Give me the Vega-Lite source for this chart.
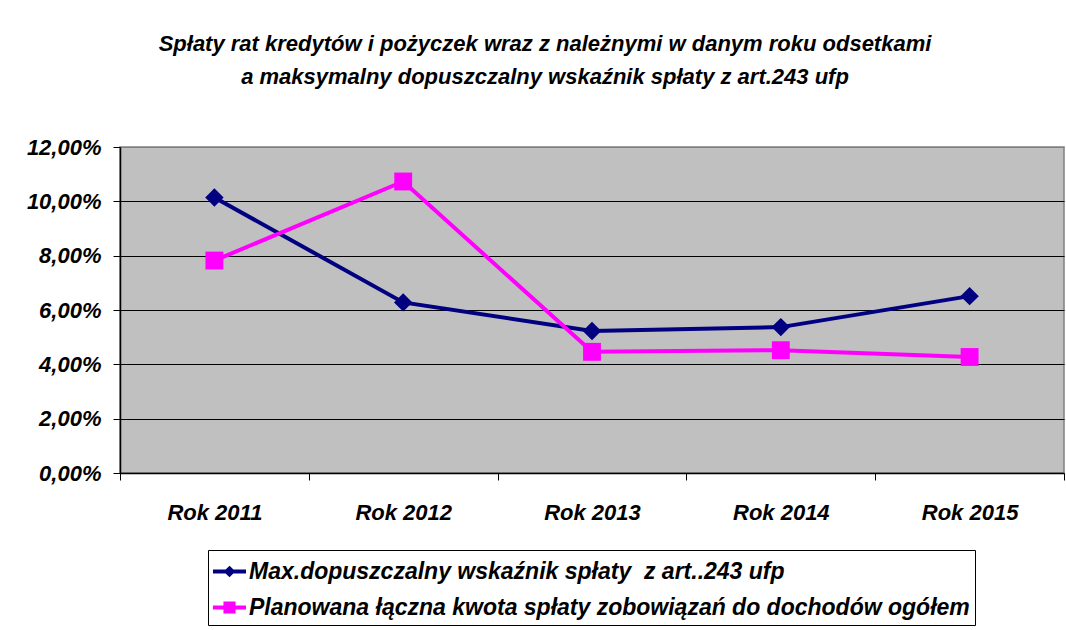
{
  "$schema": "https://vega.github.io/schema/vega-lite/v6.json",
  "autosize": {"type": "none"},
  "padding": {"left": 120, "top": 147, "right": 2, "bottom": 157},
  "width": 944,
  "height": 326,
  "background": "white",
  "title": {
    "text": ["Spłaty rat kredytów i pożyczek wraz z należnymi w danym roku odsetkami", "a maksymalny dopuszczalny wskaźnik spłaty z art.243 ufp"],
    "font": "Liberation Sans",
    "fontSize": 22,
    "fontWeight": "bold",
    "fontStyle": "italic",
    "color": "black",
    "anchor": "middle",
    "frame": "group",
    "dx": -47,
    "offset": 47,
    "lineHeight": 33
  },
  "data": {
    "values": [
      {"rok": "Rok 2011", "seria": "Max.dopuszczalny wskaźnik spłaty\u00a0 z art..243 ufp", "wartosc": 0.1014},
      {"rok": "Rok 2012", "seria": "Max.dopuszczalny wskaźnik spłaty\u00a0 z art..243 ufp", "wartosc": 0.0628},
      {"rok": "Rok 2013", "seria": "Max.dopuszczalny wskaźnik spłaty\u00a0 z art..243 ufp", "wartosc": 0.0523},
      {"rok": "Rok 2014", "seria": "Max.dopuszczalny wskaźnik spłaty\u00a0 z art..243 ufp", "wartosc": 0.0537},
      {"rok": "Rok 2015", "seria": "Max.dopuszczalny wskaźnik spłaty\u00a0 z art..243 ufp", "wartosc": 0.0651},
      {"rok": "Rok 2011", "seria": "Planowana łączna kwota spłaty zobowiązań do dochodów ogółem", "wartosc": 0.0782},
      {"rok": "Rok 2012", "seria": "Planowana łączna kwota spłaty zobowiązań do dochodów ogółem", "wartosc": 0.1073},
      {"rok": "Rok 2013", "seria": "Planowana łączna kwota spłaty zobowiązań do dochodów ogółem", "wartosc": 0.0446},
      {"rok": "Rok 2014", "seria": "Planowana łączna kwota spłaty zobowiązań do dochodów ogółem", "wartosc": 0.0452},
      {"rok": "Rok 2015", "seria": "Planowana łączna kwota spłaty zobowiązań do dochodów ogółem", "wartosc": 0.0427}
    ]
  },
  "encoding": {
    "x": {
      "field": "rok",
      "type": "nominal",
      "title": null,
      "scale": {"type": "band", "paddingInner": 0, "paddingOuter": 0},
      "axis": {
        "labelAngle": 0,
        "tickBand": "extent",
        "labelFont": "Liberation Sans",
        "labelFontSize": 22,
        "labelFontWeight": "bold",
        "labelFontStyle": "italic",
        "labelColor": "black",
        "labelPadding": 22,
        "tickColor": "black",
        "tickSize": 7,
        "domainColor": "black",
        "domainWidth": 1.5,
        "grid": false
      }
    },
    "y": {
      "field": "wartosc",
      "type": "quantitative",
      "title": null,
      "scale": {"domain": [0, 0.12], "nice": false, "zero": true},
      "axis": {
        "values": [0, 0.02, 0.04, 0.06, 0.08, 0.1, 0.12],
        "labelExpr": "replace(format(datum.value, '.2%'), '.', ',')",
        "labelFont": "Liberation Sans",
        "labelFontSize": 22,
        "labelFontWeight": "bold",
        "labelFontStyle": "italic",
        "labelColor": "black",
        "labelPadding": 12,
        "tickColor": "black",
        "tickSize": 7,
        "domainColor": "black",
        "domainWidth": 1.5,
        "grid": true,
        "gridColor": {"condition": {"test": "datum.value >= 0.119", "value": "#808080"}, "value": "black"},
        "gridOpacity": 1,
        "gridWidth": 1
      }
    },
    "color": {
      "field": "seria",
      "type": "nominal",
      "title": null,
      "scale": {
        "domain": ["Max.dopuszczalny wskaźnik spłaty\u00a0 z art..243 ufp", "Planowana łączna kwota spłaty zobowiązań do dochodów ogółem"],
        "range": ["#000080", "#FF00FF"]
      },
      "legend": {
        "orient": "none",
        "legendX": 88,
        "legendY": 403,
        "direction": "vertical",
        "strokeColor": "black",
        "fillColor": "white",
        "padding": 5,
        "rowPadding": 7,
        "symbolSize": 841,
        "symbolType": "M-1.14,0L1.14,0",
        "symbolStrokeWidth": 4,
        "labelOffset": 3,
        "labelFont": "Liberation Sans",
        "labelFontSize": 23,
        "labelFontWeight": "bold",
        "labelFontStyle": "italic",
        "labelColor": "black",
        "labelLimit": 900,
        "encode": {
          "symbols": {
            "update": {
              "shape": {"signal": "indexof(datum.value, 'Max') === 0 ? 'M-1.14,0L1.14,0M0,-0.21L0.21,0L0,0.21L-0.21,0Z' : 'M-1.14,0L1.14,0M-0.28,-0.28L0.28,-0.28L0.28,0.28L-0.28,0.28Z'"},
              "fill": {"signal": "indexof(datum.value, 'Max') === 0 ? '#000080' : '#FF00FF'"},
              "stroke": {"signal": "indexof(datum.value, 'Max') === 0 ? '#000080' : '#FF00FF'"},
              "strokeWidth": {"value": 4},
              "opacity": {"value": 1},
              "fillOpacity": {"value": 1}
            }
          }
        }
      }
    }
  },
  "layer": [
    {"mark": {"type": "line", "strokeWidth": 4}},
    {
      "transform": [{"filter": "indexof(datum.seria, 'Max') === 0"}],
      "mark": {"type": "point", "filled": true, "opacity": 1, "size": 340, "shape": "diamond"}
    },
    {
      "transform": [{"filter": "indexof(datum.seria, 'Max') !== 0"}],
      "mark": {"type": "point", "filled": true, "opacity": 1, "size": 320, "shape": "square"}
    }
  ],
  "config": {
    "view": {"fill": "#C0C0C0", "stroke": "#808080", "strokeWidth": 1.5}
  }
}
